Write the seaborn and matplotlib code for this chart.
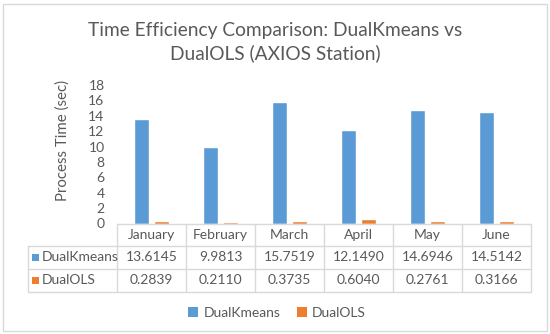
import numpy as np
import pandas as pd
import matplotlib
matplotlib.use("Agg")
import matplotlib.pyplot as plt
import matplotlib.transforms as mtransforms
from matplotlib.lines import Line2D
from matplotlib.patches import Rectangle
import seaborn as sns

# ---- data ----
months = ["January", "February", "March", "April", "May", "June"]
series = ["DualKmeans", "DualOLS"]
dualkmeans = [13.6145, 9.9813, 15.7519, 12.1490, 14.6946, 14.5142]
dualols = [0.2839, 0.2110, 0.3735, 0.6040, 0.2761, 0.3166]
colors = ["#5B9BD5", "#ED7D31"]
yticks = [0, 2, 4, 6, 8, 10, 12, 14, 16, 18]
title = "Time Efficiency Comparison: DualKmeans vs\nDualOLS (AXIOS Station)"
ylabel = "Process Time (sec)"

sns.set_theme(style="white")
plt.rcParams['font.family'] = ['Lato', 'DejaVu Sans']

TXT = "#595959"
GRID = "#D9D9D9"
FS = 10
W, H = 550, 334
fig = plt.figure(figsize=(W / 100, H / 100), dpi=100)


def fx(px):
    return px / W


def fy(py):
    return 1 - py / H


# outer chart border
fig.add_artist(Rectangle((fx(3), fy(331)), (544) / W, (327) / H, transform=fig.transFigure,
                         fill=False, edgecolor=GRID, lw=1))

ax = fig.add_axes([fx(117), fy(223.5), fx(531) - fx(117), fy(85) - fy(223.5)])
df = pd.DataFrame({
    "Month": months * 2,
    "Series": [series[0]] * len(months) + [series[1]] * len(months),
    "Time": dualkmeans + dualols,
})
sns.barplot(data=df, x="Month", y="Time", hue="Series", order=months, hue_order=series,
            palette=colors, width=0.58, gap=0.25, ax=ax, legend=False, saturation=1,
            errorbar=None)
ax.set_xlim(-0.5, len(months) - 0.5)
ax.set_ylim(0, 18)
ax.set_yticks(yticks)
ax.set_yticklabels([str(t) for t in yticks])
ax.set_xticks([])
ax.set_xlabel("")
ax.set_ylabel("")
ax.tick_params(axis="y", length=0, labelsize=FS, colors=TXT, pad=9)
for s in ax.spines.values():
    s.set_visible(False)
ax.patch.set_alpha(0)

fig.text(fx(63), fy(141), ylabel, rotation=90, ha="center", va="center", fontsize=10.8, color=TXT)
fig.text(fx(275), fy(42), title, ha="center", va="center", fontsize=13.8, color=TXT,
         linespacing=1.4)

# ---- data table ----
bt = mtransforms.blended_transform_factory(ax.transData, fig.transFigure)
rows_y = [223.5, 245.6, 269, 292]
n = len(months)
# horizontal lines
fig.add_artist(Line2D([-0.5, n - 0.5], [fy(rows_y[0])] * 2, transform=bt, color=GRID, lw=1))
for yy in rows_y[1:]:
    fig.add_artist(Line2D([fx(28), fx(531)], [fy(yy)] * 2, transform=fig.transFigure, color=GRID, lw=1))
# vertical lines
for i in range(n + 1):
    fig.add_artist(Line2D([i - 0.5, i - 0.5], [fy(rows_y[0]), fy(rows_y[3])], transform=bt,
                          color=GRID, lw=1))
fig.add_artist(Line2D([fx(28), fx(28)], [fy(rows_y[1]), fy(rows_y[3])], transform=fig.transFigure,
                      color=GRID, lw=1))

centers = [(rows_y[k] + rows_y[k + 1]) / 2 for k in range(3)]
for i, m in enumerate(months):
    fig.text(i, fy(centers[0]), m, transform=bt, ha="center", va="center", fontsize=FS, color=TXT)
    fig.text(i, fy(centers[1]), f"{dualkmeans[i]:.4f}", transform=bt, ha="center", va="center",
             fontsize=FS, color=TXT)
    fig.text(i, fy(centers[2]), f"{dualols[i]:.4f}", transform=bt, ha="center", va="center",
             fontsize=FS, color=TXT)
for k, (name, c) in enumerate(zip(series, colors)):
    yc = centers[k + 1]
    fig.add_artist(Rectangle((fx(32), fy(yc + 3.5)), 7 / W, 7 / H, transform=fig.transFigure,
                             facecolor=c, edgecolor="none"))
    fig.text(fx(42), fy(yc), name, ha="left", va="center", fontsize=FS, color=TXT)

# ---- bottom legend ----
handles = [Rectangle((0, 0), 1, 1, facecolor=c, edgecolor="none") for c in colors]
fig.legend(handles, series, loc="center", bbox_to_anchor=(fx(277), fy(313)), ncol=2,
           frameon=False, handlelength=0.7, handleheight=0.7, handletextpad=0.4,
           columnspacing=1.2, fontsize=FS, labelcolor=TXT)

fig.savefig("out.png", dpi=100)
